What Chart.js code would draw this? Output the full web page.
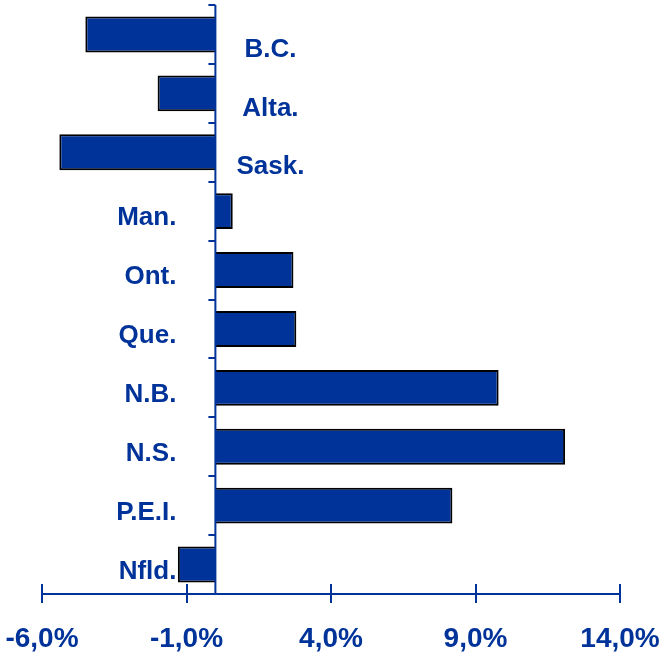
<!DOCTYPE html>
<html>
<head>
<meta charset="utf-8">
<script src="https://cdn.jsdelivr.net/npm/chart.js@4.4.0/dist/chart.umd.min.js"></script>
<style>
  html, body { margin: 0; padding: 0; background: #fff; }
  #wrap { width: 667px; height: 652px; position: relative; }
</style>
</head>
<body>
<div id="wrap"><canvas id="provChart"></canvas></div>
<script>
// Data
const provinces = ['B.C.', 'Alta.', 'Sask.', 'Man.', 'Ont.', 'Que.', 'N.B.', 'N.S.', 'P.E.I.', 'Nfld.'];
const changes = [-4.5, -2.0, -5.4, 0.6, 2.7, 2.8, 9.8, 12.1, 8.2, -1.3];
const xTicks = [-6, -1, 4, 9, 14];

const BLUE = '#003399';
const FONT = '"Liberation Sans", Arial, sans-serif';

// Axis lines, tick marks, tick labels and the province labels beside the zero line
const axesAndLabels = {
    id: 'axesAndLabels',
    afterDatasetsDraw(chart) {
        const ctx = chart.ctx;
        const x = chart.scales.x;
        const y = chart.scales.y;
        const area = chart.chartArea;
        const zero = x.getPixelForValue(0);

        ctx.save();
        ctx.strokeStyle = BLUE;
        ctx.lineWidth = 2;

        // bottom axis with ticks crossing it
        ctx.beginPath();
        ctx.moveTo(x.getPixelForValue(xTicks[0]), area.bottom);
        ctx.lineTo(x.getPixelForValue(xTicks[xTicks.length - 1]), area.bottom);
        xTicks.forEach(v => {
            const px = Math.round(x.getPixelForValue(v));
            ctx.moveTo(px, area.bottom - 10);
            ctx.lineTo(px, area.bottom + 9);
        });
        ctx.stroke();

        // vertical zero line with small ticks at category boundaries
        ctx.beginPath();
        ctx.moveTo(zero, area.top);
        ctx.lineTo(zero, area.bottom);
        const step = (area.bottom - area.top) / provinces.length;
        for (let i = 0; i < provinces.length; i++) {
            const py = Math.round(area.top + i * step);
            ctx.moveTo(zero - 7, py);
            ctx.lineTo(zero, py);
        }
        ctx.stroke();

        ctx.fillStyle = BLUE;

        // x tick labels
        ctx.font = 'bold 28px ' + FONT;
        ctx.textAlign = 'center';
        ctx.textBaseline = 'alphabetic';
        xTicks.forEach(v => {
            ctx.fillText(v.toFixed(1).replace('.', ',') + '%', x.getPixelForValue(v), area.bottom + 53);
        });

        // province labels: western three sit right of the axis, the rest left
        ctx.font = 'bold 26px ' + FONT;
        ctx.textBaseline = 'middle';
        provinces.forEach((p, i) => {
            const cy = y.getPixelForValue(i);
            if (i < 3) {
                ctx.textAlign = 'center';
                ctx.fillText(p, zero + 55, cy + 15);
            } else {
                ctx.textAlign = 'right';
                ctx.fillText(p, zero - 39, cy + 7);
            }
        });
        ctx.restore();
    }
};

const ctx = document.getElementById('provChart').getContext('2d');
new Chart(ctx, {
    type: 'bar',
    data: {
        labels: provinces,
        datasets: [{
            data: changes,
            backgroundColor: BLUE,
            borderColor: '#000000',
            borderWidth: 2,
            borderSkipped: 'start',
            categoryPercentage: 1.0,
            barPercentage: 0.61
        }]
    },
    options: {
        indexAxis: 'y',
        responsive: true,
        maintainAspectRatio: false,
        animation: false,
        layout: { padding: { left: 42, right: 47, top: 5, bottom: 58 } },
        plugins: {
            legend: { display: false },
            tooltip: { enabled: false }
        },
        scales: {
            x: {
                display: false,
                min: xTicks[0],
                max: xTicks[xTicks.length - 1]
            },
            y: {
                display: false,
                offset: true
            }
        }
    },
    plugins: [axesAndLabels]
});
</script>
</body>
</html>
